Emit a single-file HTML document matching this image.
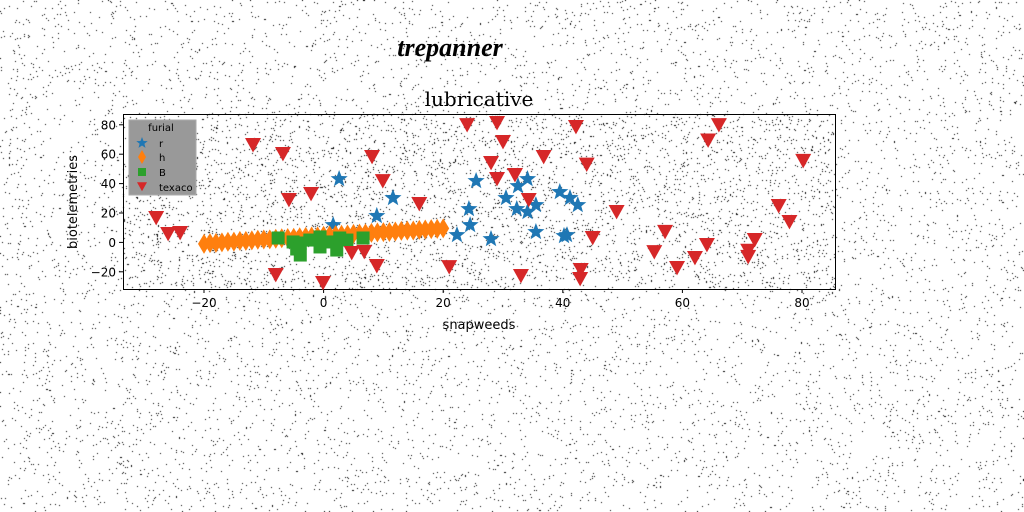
<!DOCTYPE html>
<html><head><meta charset="utf-8"><style>
html,body{margin:0;padding:0;background:#fff}
#wrap{position:relative;width:1024px;height:512px;overflow:hidden}
canvas{position:absolute;left:0;top:0}
svg{position:absolute;left:0;top:0}
text{font-family:"DejaVu Sans","Liberation Sans",sans-serif}
</style></head><body>
<div id="wrap">
<canvas id="noise" width="1024" height="512"></canvas>
<svg id="chart" width="1024" height="512">
<text x="450" y="56" text-anchor="middle" font-size="26" font-style="italic" font-weight="bold" style="font-family:'Liberation Serif',serif">trepanner</text>
<text x="479" y="106" text-anchor="middle" font-size="20" style="font-family:'DejaVu Serif','Liberation Serif',serif">lubricative</text>
<rect x="123.5" y="114.5" width="712" height="175" fill="none" stroke="#000" stroke-width="1"/>
<g id="xt"></g>
<g id="yt"></g>
<text x="479" y="329" text-anchor="middle" font-size="13">snapweeds</text>
<text transform="translate(77,202) rotate(-90)" text-anchor="middle" font-size="13">biotelemetries</text>
<g id="marks"></g>
<g>
<rect x="129" y="120" width="67" height="75" fill="#999" stroke="#aaa"/>
<text x="161" y="131" text-anchor="middle" font-size="10">furial</text>
<g id="leg"></g>
</g>
</svg>
</div>
<script>
const xTicks=[-20,0,20,40,60,80];
const yTicks=[-20,0,20,40,60,80];
const rX=[2.6,1.6,8.9,11.6,22.3,24.3,24.5,25.5,28.0,30.5,32.5,34.1,32.3,34.1,35.5,35.5,39.5,41.2,42.5,40.7,40.2];
const rY=[43.1,11.8,18,30.2,5.0,22.7,11.8,41.8,2.3,30.2,38.3,43.1,22.7,20.7,25.4,7.1,34.3,30.2,25.4,5.0,4.4];
const hX=[-20,-19,-18,-17,-16,-15,-14,-13,-12,-11,-10,-9,-8,-7,-6,-5,-4,-3,-2,-1,0,1,2,3,4,5,6,7,8,9,10,11,12,13,14,15,16,17,18,19,20];
const hY=[-1,-0.5,-0.3,0,0.4,0.5,1,1,1.4,1.8,2,2.1,2.5,2.8,3,3.2,3.5,3.8,4,4.1,4.5,4.8,5,5.2,5.4,5.8,6,6.1,6.5,6.8,7,7.1,7.4,7.8,8,8.1,8.5,8.8,9,9.2,9.5];
const bX=[-7.6,-5.1,-3.9,-3.9,-2.3,-0.6,-0.6,1.1,2.7,2.2,3.9,6.6,-4.5];
const bY=[3.0,0.3,-8.6,-0.4,1.6,3.7,-3.1,0.3,3.0,-5.2,1.6,3.0,-4.5];
const tX=[-28.0,-26.0,-24.0,-11.8,-6.8,-5.8,-2.1,-8.0,-0.1,8.1,9.9,8.9,16.0,4.7,6.8,21.0,24.0,29.0,30.0,28.0,29.0,32.0,34.3,33.0,36.8,42.2,44.0,43.0,42.9,45.0,49.0,55.3,57.1,59.1,62.1,64.1,66.1,64.3,71.0,71.0,72.1,76.1,77.9,80.2];
const tY=[17.3,6.4,7.1,66.9,60.8,29.5,33.6,-21.5,-26.9,58.8,42.4,-15.4,26.8,-6.5,-5.8,-16.1,80.5,81.9,69,54.7,43.8,46.5,29.5,-22.2,58.8,79.2,53.6,-18.1,-24.2,3.7,21.4,-5.9,7.8,-16.7,-9.9,-1.1,80.5,70.0,-5,-9.2,2.3,25.4,14.6,56.1];

// noise
const c=document.getElementById('noise').getContext('2d');
let s=12345;function rnd(){s=(s*1103515245+12345)%2147483648;return s/2147483648;}
c.fillStyle='#000';
for(let i=0;i<26000;i++){c.fillRect(Math.floor(rnd()*1024),Math.floor(rnd()*512),1,1);}
c.fillStyle='#fff';c.fillRect(124,115,711,174);
c.fillStyle='#000';
for(let i=0;i<4200;i++){c.fillRect(124+Math.floor(rnd()*711),115+Math.floor(rnd()*174),1,1);}

const X=v=>323.6+5.98*v;
const Y=v=>242.4-1.47*v;
const NS='http://www.w3.org/2000/svg';
function mk(tag,attrs,parent){const e=document.createElementNS(NS,tag);for(const k in attrs)e.setAttribute(k,attrs[k]);parent.appendChild(e);return e;}
const xt=document.getElementById('xt'),yt=document.getElementById('yt');
xTicks.forEach(t=>{
 const l=mk('line',{x1:X(t),x2:X(t),y1:289,y2:293,stroke:'#000'},xt);
 
 
 const tx=mk('text',{x:X(t),y:307,'text-anchor':'middle','font-size':12},xt);
 tx.textContent=t<0?'\u2212'+(-t):t;
 
 
});
yTicks.forEach(t=>{
 const l=mk('line',{x1:119,x2:123,y1:Y(t),y2:Y(t),stroke:'#000'},yt);
 
 
 const tx=mk('text',{x:116,y:Y(t)+4.5,'text-anchor':'end','font-size':12},yt);
 tx.textContent=t<0?'\u2212'+(-t):t;
 
 
});
function star(cx,cy,r){let p=[];for(let i=0;i<10;i++){const a=-Math.PI/2+i*Math.PI/5;const rr=i%2?r*0.42:r;p.push((cx+rr*Math.cos(a)).toFixed(1)+','+(cy+rr*Math.sin(a)).toFixed(1));}return p.join(' ');}
function tri(cx,cy,w){return `${cx-w},${cy-w*0.75} ${cx+w},${cy-w*0.75} ${cx},${cy+w*1.05}`;}
function dia(cx,cy,w,h){return `${cx},${cy-h} ${cx+w},${cy} ${cx},${cy+h} ${cx-w},${cy}`;}
const m=document.getElementById('marks');
rX.forEach((v,i)=>{const e=mk('polygon',{points:star(X(v),Y(rY[i]),9),fill:'#1f77b4'},m);
 
 });
hX.forEach((v,i)=>{const e=mk('polygon',{points:dia(X(v),Y(hY[i]),6,10),fill:'#ff7f0e'},m);
 
 });
bX.forEach((v,i)=>{const e=mk('rect',{x:X(v)-6.5,y:Y(bY[i])-6.5,width:13,height:13,fill:'#2ca02c'},m);
 
 });
tX.forEach((v,i)=>{const e=mk('polygon',{points:tri(X(v),Y(tY[i]),8),fill:'#d62728'},m);
 
 });
const lg=document.getElementById('leg');
const labs=['r','h','B','texaco'];const ly=[143,157,172,187];
labs.forEach((t,i)=>{
 let e;
 if(i==0)e=mk('polygon',{points:star(142,ly[i],6),fill:'#1f77b4'},lg);
 if(i==1)e=mk('polygon',{points:dia(142,ly[i],4,7),fill:'#ff7f0e'},lg);
 if(i==2)e=mk('rect',{x:138,y:ly[i]-4,width:8,height:8,fill:'#2ca02c'},lg);
 if(i==3)e=mk('polygon',{points:tri(142,ly[i]-1,5),fill:'#d62728'},lg);
 
 
 const tx=mk('text',{x:159,y:ly[i]+4,'font-size':10},lg);tx.textContent=t;
 
 
});
</script>
</body></html>
